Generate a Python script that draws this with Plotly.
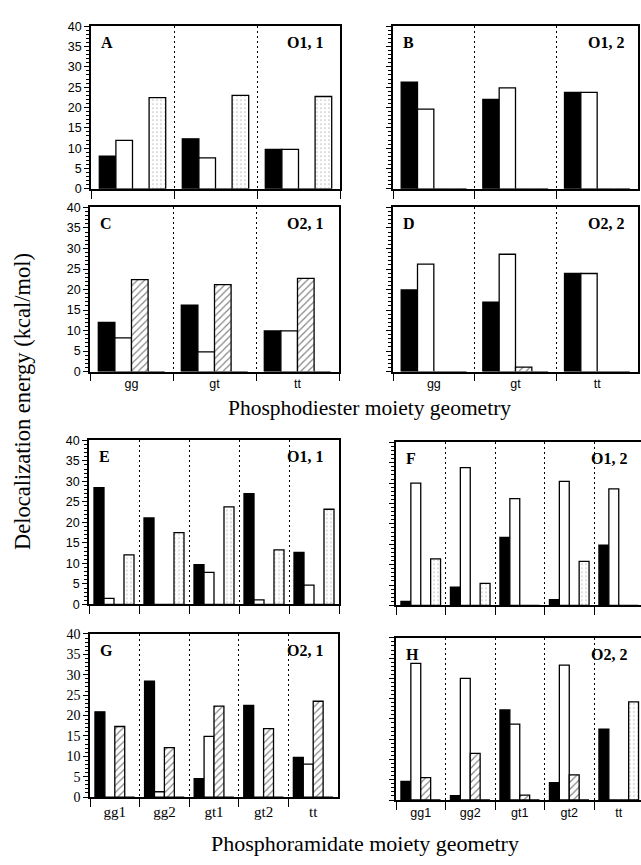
import plotly.graph_objects as go

W, H = 641, 865

# ---------------- data ----------------
cats_diester = ["gg", "gt", "tt"]
cats_amidate = ["gg1", "gg2", "gt1", "gt2", "tt"]
series_names = ["black", "white", "hatched", "dotted"]

# Panel A  (O1, 1) phosphodiester
A_black = [8.0, 12.3, 9.7]
A_white = [11.9, 7.6, 9.7]
A_hatch = [0, 0, 0]
A_dot = [22.4, 23.0, 22.7]
# Panel B  (O1, 2)
B_black = [26.2, 22.0, 23.7]
B_white = [19.6, 24.8, 23.7]
B_hatch = [0, 0, 0]
B_dot = [0, 0, 0]
# Panel C  (O2, 1)
C_black = [12.0, 16.2, 9.9]
C_white = [8.2, 4.8, 9.9]
C_hatch = [22.4, 21.2, 22.7]
C_dot = [0, 0, 0]
# Panel D  (O2, 2)
D_black = [19.9, 16.9, 23.9]
D_white = [26.2, 28.6, 23.9]
D_hatch = [0, 1.1, 0]
D_dot = [0, 0, 0]
# Panel E  (O1, 1) phosphoramidate
E_black = [28.5, 21.1, 9.7, 27.0, 12.7]
E_white = [1.5, 0, 7.8, 1.1, 4.7]
E_hatch = [0, 0, 0, 0, 0]
E_dot = [12.1, 17.5, 23.8, 13.3, 23.2]
# Panel F  (O1, 2)
F_black = [1.0, 4.5, 16.7, 1.4, 14.8]
F_white = [30.0, 33.8, 26.2, 30.4, 28.6]
F_hatch = [0, 0, 0, 0, 0]
F_dot = [11.4, 5.4, 0, 10.8, 0]
# Panel G  (O2, 1)
G_black = [20.9, 28.4, 4.5, 22.5, 9.7]
G_white = [0, 1.3, 14.9, 0, 8.1]
G_hatch = [17.3, 12.1, 22.3, 16.8, 23.5]
G_dot = [0, 0, 0, 0, 0]
# Panel H  (O2, 2)
H_black = [4.6, 1.1, 22.2, 4.3, 17.5]
H_white = [33.7, 30.0, 18.7, 33.3, 0]
H_hatch = [5.5, 11.5, 1.2, 6.2, 0]
H_dot = [0, 0, 0, 0, 24.2]

panel_letters = ["A", "B", "C", "D", "E", "F", "G", "H"]
panel_tags = ["O1, 1", "O1, 2", "O2, 1", "O2, 2", "O1, 1", "O1, 2", "O2, 1", "O2, 2"]
y_ticks = [0, 5, 10, 15, 20, 25, 30, 35, 40]

panels_data = [
    (cats_diester, [A_black, A_white, A_hatch, A_dot]),
    (cats_diester, [B_black, B_white, B_hatch, B_dot]),
    (cats_diester, [C_black, C_white, C_hatch, C_dot]),
    (cats_diester, [D_black, D_white, D_hatch, D_dot]),
    (cats_amidate, [E_black, E_white, E_hatch, E_dot]),
    (cats_amidate, [F_black, F_white, F_hatch, F_dot]),
    (cats_amidate, [G_black, G_white, G_hatch, G_dot]),
    (cats_amidate, [H_black, H_white, H_hatch, H_dot]),
]

# ---------------- layout geometry (pixels) ----------------
# x0, x1, ytop, ybottom, crop_right
geom = [
    (91, 340, 19.5, 185, False),
    (393, 638, 19.5, 185, False),
    (90, 339, 204, 371, False),
    (393, 638, 204, 371, False),
    (89, 339, 441, 608, False),
    (396, 641, 443, 609, True),
    (90, 338, 638, 804, False),
    (396, 641, 642, 807, True),
]
show_y_labels = [True, False, True, False, True, False, True, False]
show_x_labels = [False, False, True, True, False, False, True, True]
SANS = "Liberation Sans, Arial, sans-serif"
SERIF = "Liberation Serif, Times New Roman, serif"
ytick_fonts = [SANS, SANS, SANS, SANS, SANS, SANS, SERIF, SANS]
xtick_fonts = [SANS, SANS, SANS, SANS, SANS, SANS, SERIF, SANS]

def px_x(p):
    return p / W

def px_y(p):
    return 1 - p / H

fig = go.Figure()

styles = [
    dict(color="black", line=dict(color="black", width=1.3)),
    dict(color="white", line=dict(color="black", width=1.3)),
    dict(color="white", line=dict(color="black", width=1.3),
         pattern=dict(shape="/", fgcolor="black", bgcolor="white", size=5, solidity=0.22)),
    dict(color="white", line=dict(color="black", width=1.3),
         pattern=dict(shape=".", fgcolor="#666666", bgcolor="white", size=4, solidity=0.12)),
]

layout_axes = {}
for i, ((cats, series), (x0, x1, yt, yb, crop)) in enumerate(zip(panels_data, geom)):
    n = i + 1
    xa = "x" if n == 1 else f"x{n}"
    ya = "y" if n == 1 else f"y{n}"
    for s, vals in enumerate(series):
        fig.add_trace(go.Bar(
            x=cats, y=vals, xaxis=xa, yaxis=ya,
            marker=styles[s], name=series_names[s], showlegend=False,
            hoverinfo="x+y",
        ))
    ncat = len(cats)
    rng_end = ncat - 0.5
    if crop:
        group_w = 49.5
        rng_end = -0.5 + (x1 - x0) / group_w
    xkey = "xaxis" if n == 1 else f"xaxis{n}"
    ykey = "yaxis" if n == 1 else f"yaxis{n}"
    serif_x = xtick_fonts[i] == SERIF
    serif_y = ytick_fonts[i] == SERIF
    layout_axes[xkey] = dict(
        domain=[px_x(x0), px_x(x1)], anchor=ya, type="category",
        categoryorder="array", categoryarray=cats,
        range=[-0.5, rng_end], tickson="boundaries", ticks="outside",
        ticklen=8, tickwidth=1, tickcolor="black",
        showgrid=True, gridcolor="black", gridwidth=1, griddash="2px,3px",
        showline=True, linecolor="black", linewidth=1.5, mirror=True,
        zeroline=False, showticklabels=show_x_labels[i],
        tickfont=dict(family=xtick_fonts[i], size=15 if serif_x else 12.5, color="black"),
        fixedrange=True,
    )
    layout_axes[ykey] = dict(
        domain=[px_y(yb), px_y(yt)], anchor=xa, range=[0, 40],
        tickmode="array", tickvals=y_ticks, ticks="outside", ticklen=5,
        tickwidth=1, tickcolor="black",
        minor=dict(ticks="outside", ticklen=3, dtick=1, tick0=0, tickcolor="black", showgrid=False),
        showgrid=False, zeroline=False, showline=True, linecolor="black",
        linewidth=1.5, mirror=not crop, showticklabels=show_y_labels[i],
        tickfont=dict(family=ytick_fonts[i], size=14 if serif_y else 12.5, color="black"),
        fixedrange=True,
    )

annotations = []
for i, (x0, x1, yt, yb, crop) in enumerate(geom):
    annotations.append(dict(
        text=f"<b>{panel_letters[i]}</b>", xref="paper", yref="paper",
        x=px_x(x0 + 8), y=px_y(yt + 6), xanchor="left", yanchor="top",
        showarrow=False, font=dict(family=SERIF, size=16, color="black"),
    ))
    right_edge = 626 if x0 > 350 else 325
    if crop:
        right_edge = 629
    annotations.append(dict(
        text=f"<b>{panel_tags[i]}</b>", xref="paper", yref="paper",
        x=px_x(right_edge), y=px_y(yt + 6), xanchor="right", yanchor="top",
        showarrow=False, font=dict(family=SERIF, size=16, color="black"),
    ))

annotations.append(dict(
    text="Delocalization energy (kcal/mol)", xref="paper", yref="paper",
    x=px_x(22), y=px_y(402), textangle=-90, xanchor="center", yanchor="middle",
    showarrow=False, font=dict(family=SERIF, size=22.5, color="black"),
))
annotations.append(dict(
    text="Phosphodiester moiety geometry", xref="paper", yref="paper",
    x=px_x(370), y=px_y(408), xanchor="center", yanchor="middle",
    showarrow=False, font=dict(family=SERIF, size=21.5, color="black"),
))
annotations.append(dict(
    text="Phosphoramidate moiety geometry", xref="paper", yref="paper",
    x=px_x(365), y=px_y(851), xanchor="center", yanchor="middle",
    showarrow=False, font=dict(family=SERIF, size=22, color="black"),
))

fig.update_layout(
    width=W, height=H, margin=dict(l=0, r=0, t=0, b=0),
    paper_bgcolor="white", plot_bgcolor="white",
    barmode="group", bargap=0.2, bargroupgap=0,
    showlegend=False, annotations=annotations,
    **layout_axes,
)

fig.write_html("out.html")
